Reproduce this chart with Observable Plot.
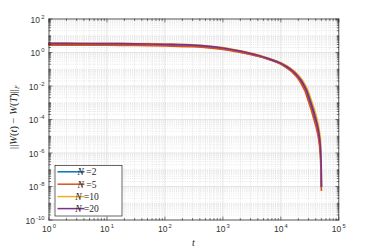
<!DOCTYPE html>
<html><head><meta charset="utf-8">
<script src="https://cdn.jsdelivr.net/npm/d3@7"></script>
<script src="https://cdn.jsdelivr.net/npm/@observablehq/plot@0.6"></script>
<style>
html,body{margin:0;padding:0;background:#fff;}
#chart{position:relative;width:374px;height:249px;}
</style></head><body><div id="chart"></div>
<script>
// ---- data ----
const seriesLabels = ["2", "5", "10", "20"];
const seriesColors = ["#0072BD", "#D95319", "#EDB120", "#7E2F8E"];

const tN2  = [1,3,10,30,100,300,1000,2000,4000,6050,9600,12100,15200,17100,19200,21500,24100,27100,30300,34100,38200,42100,45700,48600,50000];
const vN2  = [3.19,3.17,3.12,3.05,2.84,2.53,1.71,1.1,0.635,0.417,0.229,0.145,0.0832,0.0575,0.0372,0.0219,0.0112,0.005,0.00158,4.68e-4,1.2e-4,3.16e-5,7.1e-6,7.9e-7,1e-8];
const tN5  = [1,3,10,30,100,300,1000,2000,4000,5830,9250,11650,14600,16500,18500,20700,23200,26100,29200,32800,36800,40900,44900,48000,50000];
const vN5  = [2.78,2.76,2.71,2.65,2.47,2.2,1.52,1.0,0.6,0.417,0.229,0.145,0.0832,0.0575,0.0372,0.0219,0.0112,0.005,0.00158,4.68e-4,1.2e-4,3.16e-5,7.1e-6,7.9e-7,6e-9];
const tN10 = [1,3,10,30,100,300,1000,2000,4000,6600,10500,13200,16600,18700,21000,23500,26400,29600,33200,37300,41800,45200,47900,49400,50100];
const vN10 = [3.6,3.58,3.52,3.44,3.21,2.86,1.94,1.25,0.72,0.417,0.229,0.145,0.0832,0.0575,0.0372,0.0219,0.0112,0.005,0.00158,4.68e-4,1.2e-4,3.16e-5,7.1e-6,7.9e-7,1e-8];
const tN20 = [1,3,10,30,100,300,1000,2000,4000,6300,10000,12600,15800,17800,20000,22400,25100,28200,31600,35500,39800,43700,46800,49000,50100];
const vN20 = [3.47,3.45,3.39,3.31,3.09,2.75,1.86,1.2,0.69,0.417,0.229,0.145,0.0832,0.0575,0.0372,0.0219,0.0112,0.005,0.00158,4.68e-4,1.2e-4,3.16e-5,7.1e-6,7.9e-7,1e-8];

const xTickValues = [1, 10, 100, 1e3, 1e4, 1e5];
const xTickExps   = ["0", "1", "2", "3", "4", "5"];
const yTickValues = [1e2, 1, 1e-2, 1e-4, 1e-6, 1e-8, 1e-10];
const yTickExps   = ["2", "0", "-2", "-4", "-6", "-8", "-10"];

// ---- build ----
const tList = [tN2, tN5, tN10, tN20];
const vList = [vN2, vN5, vN10, vN20];
const rows = seriesLabels.map((s, k) => tList[k].map((t, i) => ({t, v: vList[k][i], s})));

function minorTicks(lo, hi, majors) {
  const out = [];
  for (let e = lo; e < hi; e++) for (let k = 1; k <= 9; k++) {
    const v = k * Math.pow(10, e);
    if (!majors.some(m => Math.abs(m - v) / v < 1e-9)) out.push(v);
  }
  return out;
}
const xMinor = minorTicks(0, 5, xTickValues);
const yMinor = minorTicks(-10, 2, yTickValues);

const tickShape = {draw(ctx, l) { ctx.moveTo(0, 0); ctx.lineTo(0, -l); }};
const axisColor = "#262626";
const tickMarks = (vals, ch, anchor, rotate, len) =>
  Plot.vector(vals, {[ch]: d => d, frameAnchor: anchor, rotate, length: len, anchor: "start",
    shape: tickShape, stroke: axisColor, strokeWidth: 0.6});

const fmt = e => "10|" + e;

const plot = Plot.plot({
  width: 374, height: 249,
  marginLeft: 48.5, marginRight: 35.7, marginTop: 18.5, marginBottom: 29.5,
  style: {fontFamily: "'Liberation Sans', Arial, sans-serif", fontSize: "8.5px", background: "#fff", color: axisColor},
  x: {type: "log", domain: [1, 1e5], axis: null},
  y: {type: "log", domain: [1e-10, 1e2], axis: null},
  marks: [
    Plot.gridX(xMinor, {stroke: "#cfcfcf", strokeOpacity: 1, strokeWidth: 0.5, strokeDasharray: "1,1.2"}),
    Plot.gridY(yMinor, {stroke: "#cfcfcf", strokeOpacity: 1, strokeWidth: 0.5, strokeDasharray: "1,1.2"}),
    Plot.gridX(xTickValues, {stroke: "#dedede", strokeOpacity: 1, strokeWidth: 0.8}),
    Plot.gridY(yTickValues, {stroke: "#dedede", strokeOpacity: 1, strokeWidth: 0.8}),
    ...rows.map((r, k) => Plot.line(r, {x: "t", y: "v", stroke: seriesColors[k], strokeWidth: 1.7, curve: "catmull-rom"})),
    Plot.frame({stroke: axisColor, strokeWidth: 0.7}),
    tickMarks(xTickValues, "x", "bottom", 0, 3),
    tickMarks(xTickValues, "x", "top", 180, 3),
    tickMarks(xMinor, "x", "bottom", 0, 1.6),
    tickMarks(xMinor, "x", "top", 180, 1.6),
    tickMarks(yTickValues, "y", "left", 90, 3),
    tickMarks(yTickValues, "y", "right", -90, 3),
    tickMarks(yMinor, "y", "left", 90, 1.6),
    tickMarks(yMinor, "y", "right", -90, 1.6),
    Plot.text(xTickValues, {x: d => d, frameAnchor: "bottom", dy: 12, text: (d, i) => fmt(xTickExps[i]), textAnchor: "middle", fill: "#333", fontSize: 8.5}),
    Plot.text(yTickValues, {y: d => d, frameAnchor: "left", dx: -4.5, dy: 1, text: (d, i) => fmt(yTickExps[i]), textAnchor: "end", fill: "#333", fontSize: 8.5})
  ]
});

// superscript exponents
d3.select(plot).selectAll("text").each(function() {
  const s = this.textContent;
  if (/^10\|/.test(s)) {
    const e = s.slice(3);
    const el = d3.select(this);
    el.text("10");
    el.append("tspan").attr("dx", 1.2).attr("dy", -3.8).attr("font-size", 5.8).text(e);
  }
});

const svg = d3.select(plot);
const serif = "'Liberation Serif', 'DejaVu Serif', serif";
// y label
const yl = svg.append("text")
  .attr("transform", "translate(16.5,117) rotate(-90)")
  .attr("text-anchor", "middle").attr("font-family", serif).attr("font-size", 10.5).attr("fill", axisColor);
yl.append("tspan").text("||");
yl.append("tspan").attr("font-style", "italic").text("W");
yl.append("tspan").text("(");
yl.append("tspan").attr("font-style", "italic").text("t");
yl.append("tspan").text(") \u2212 ");
yl.append("tspan").attr("font-style", "italic").text("W");
yl.append("tspan").text("(");
yl.append("tspan").attr("font-style", "italic").text("T");
yl.append("tspan").text(")||");
yl.append("tspan").attr("font-style", "italic").attr("font-size", 6.5).attr("dy", 2.5).text("F");
// x label
svg.append("text").attr("x", 193.4).attr("y", 246).attr("text-anchor", "middle")
  .attr("font-family", serif).attr("font-style", "italic").attr("font-size", 10).attr("fill", axisColor).text("t");

// legend
const lg = svg.append("g");
lg.append("rect").attr("x", 55).attr("y", 165.5).attr("width", 67).attr("height", 50.5)
  .attr("fill", "#fff").attr("stroke", axisColor).attr("stroke-width", 0.7);
const rowY = [171.8, 184.2, 196.6, 208.6];
seriesLabels.forEach((s, k) => {
  lg.append("line").attr("x1", 57.5).attr("x2", 84.5).attr("y1", rowY[k]).attr("y2", rowY[k])
    .attr("stroke", seriesColors[k]).attr("stroke-width", 1.5);
  const t = lg.append("text").attr("x", 87).attr("y", rowY[k] + 3.3)
    .attr("font-family", serif).attr("font-size", 9.5).attr("fill", axisColor);
  t.append("tspan").attr("font-style", "italic").text("N");
  t.append("tspan").text(" =" + s);
});

document.getElementById("chart").appendChild(plot);
</script>
</body></html>
